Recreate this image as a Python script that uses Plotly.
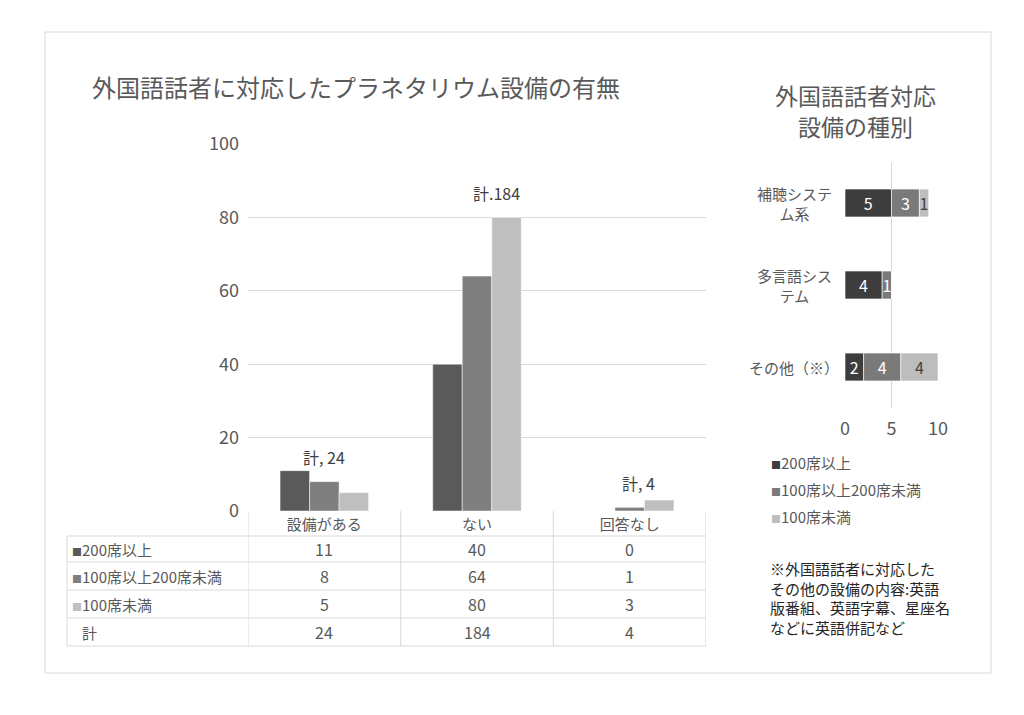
import plotly.graph_objects as go

# ---------------- data ----------------
categories = ["設備がある", "ない", "回答なし"]
series_names = ["200席以上", "100席以上200席未満", "100席未満"]
seats_200_plus = [11, 40, 0]
seats_100_200 = [8, 64, 1]
seats_under_100 = [5, 80, 3]
total_row_label = "計"
total_label_formats = ["計, {}", "計.{}", "計, {}"]
main_ticks = [0, 20, 40, 60, 80, 100]

type_categories = ["補聴システム系", "多言語システム", "その他（※）"]
type_tick_labels = ["補聴システ<br>ム系", "多言語シス<br>テム", "その他（※）"]
type_200_plus = [5, 4, 2]
type_100_200 = [3, 1, 4]
type_under_100 = [1, 0, 4]
side_ticks = [0, 5, 10]

main_title = "外国語話者に対応したプラネタリウム設備の有無"
side_title_lines = ["外国語話者対応", "設備の種別"]
note_text = ("※外国語話者に対応した<br>その他の設備の内容:英語<br>"
             "版番組、英語字幕、星座名<br>などに英語併記など")

# ---------------- styling ----------------
W, H = 1024, 715
FONT = "Noto Sans CJK JP"
TXT = "#595959"
GRID = "#d9d9d9"
main_colors = ["#5a5a5a", "#7f7f7f", "#bfbfbf"]
side_colors = ["#3d3d3d", "#7a7a7a", "#bdbdbd"]
side_text_colors = ["#ffffff", "#ffffff", "#404040"]


def fx(p):
    return p / W


def fy(p):
    return 1 - p / H


fig = go.Figure()

main_series = [seats_200_plus, seats_100_200, seats_under_100]
bw = 0.58 / 3
for i, (name, vals) in enumerate(zip(series_names, main_series)):
    fig.add_trace(go.Bar(
        x=categories, y=vals, name=name, width=bw, offset=-1.5 * bw + i * bw,
        marker=dict(color=main_colors[i], line=dict(color="white", width=0.5)),
        xaxis="x", yaxis="y", showlegend=False, hoverinfo="skip"))

side_series = [type_200_plus, type_100_200, type_under_100]
base = [0] * len(type_categories)
for i, (name, vals) in enumerate(zip(series_names, side_series)):
    fig.add_trace(go.Bar(
        y=type_categories, x=vals, base=list(base), orientation="h", width=0.34,
        name=name,
        marker=dict(color=side_colors[i], line=dict(color="white", width=0.6)),
        text=[str(v) if v else "" for v in vals], textposition="inside",
        insidetextanchor="middle", textangle=0,
        textfont=dict(color=side_text_colors[i], size=16, family=FONT),
        xaxis="x2", yaxis="y2", showlegend=False, hoverinfo="skip"))
    base = [b + v for b, v in zip(base, vals)]

annotations = []
shapes = []

# titles
annotations.append(dict(text=main_title, xref="paper", yref="paper", x=fx(90), y=fy(86),
                         xanchor="left", yanchor="middle", showarrow=False,
                         font=dict(size=24, color=TXT, family=FONT)))
for line, yy in zip(side_title_lines, [95, 126]):
    annotations.append(dict(text=line, xref="paper", yref="paper", x=fx(855), y=fy(yy),
                             xanchor="center", yanchor="middle", showarrow=False,
                             font=dict(size=23, color=TXT, family=FONT)))

# totals above groups
totals = [sum(v) for v in zip(*main_series)]
total_label_y = [14.7, 86.6, 7.6]
total_label_xshift = [0, 19, 9]
for c, t, fmt, yy, xs in zip(categories, totals, total_label_formats, total_label_y, total_label_xshift):
    annotations.append(dict(text=fmt.format(t), xref="x", yref="y", x=c, y=yy, xshift=xs,
                             xanchor="center", yanchor="middle", showarrow=False,
                             font=dict(size=16, color="#404040", family=FONT)))

# data table
row_centers = [549, 576, 604, 632]
row_lines = [536, 562, 590, 618, 646]
table_left = 67
for yy in row_lines:
    shapes.append(dict(type="line", xref="paper", yref="paper", x0=fx(table_left), x1=fx(706),
                       y0=fy(yy), y1=fy(yy), line=dict(color=GRID, width=1)))
shapes.append(dict(type="line", xref="paper", yref="paper", x0=fx(table_left), x1=fx(table_left),
                   y0=fy(536), y1=fy(646), line=dict(color=GRID, width=1)))
for b in [-0.5, 0.5, 1.5, 2.5]:
    shapes.append(dict(type="line", xref="x", yref="paper", x0=b, x1=b,
                       y0=fy(511), y1=fy(646), line=dict(color=GRID, width=1)))

for r, (name, vals) in enumerate(zip(series_names, main_series)):
    annotations.append(dict(
        text=f'<span style="color:{main_colors[r]};font-size:10px">■</span>{name}',
        xref="paper", yref="paper", x=fx(70), y=fy(row_centers[r]), xanchor="left",
        yanchor="middle", showarrow=False, font=dict(size=15, color=TXT, family=FONT)))
    for c, v in zip(categories, vals):
        annotations.append(dict(text=str(v), xref="x", yref="paper", x=c, y=fy(row_centers[r]),
                                 xanchor="center", yanchor="middle", showarrow=False,
                                 font=dict(size=16, color=TXT, family=FONT)))
annotations.append(dict(text=total_row_label, xref="paper", yref="paper", x=fx(80),
                         y=fy(row_centers[3]), xanchor="left", yanchor="middle", showarrow=False,
                         font=dict(size=15, color=TXT, family=FONT)))
for c, t in zip(categories, totals):
    annotations.append(dict(text=str(t), xref="x", yref="paper", x=c, y=fy(row_centers[3]),
                             xanchor="center", yanchor="middle", showarrow=False,
                             font=dict(size=16, color=TXT, family=FONT)))

# side chart category labels (centred, multi-line)
for cat, lab in zip(type_categories, type_tick_labels):
    annotations.append(dict(text=lab, xref="paper", yref="y2", x=fx(794), y=cat,
                             xanchor="center", yanchor="middle", align="center", showarrow=False,
                             font=dict(size=15, color=TXT, family=FONT)))

# side chart legend
legend_rows = [462, 489, 516]
for name, col, yy in zip(series_names, side_colors, legend_rows):
    annotations.append(dict(
        text=f'<span style="color:{col};font-size:10px">■</span>{name}',
        xref="paper", yref="paper", x=fx(769), y=fy(yy), xanchor="left", yanchor="middle",
        showarrow=False, font=dict(size=15, color=TXT, family=FONT)))

# note
annotations.append(dict(text=note_text, xref="paper", yref="paper", x=fx(768), y=fy(556),
                         xanchor="left", yanchor="top", align="left", showarrow=False,
                         font=dict(size=15, color="#262626", family=FONT)))

# outer frame
shapes.append(dict(type="rect", xref="paper", yref="paper", x0=fx(45), x1=fx(991),
                   y0=fy(673), y1=fy(32), line=dict(color=GRID, width=1)))

fig.update_layout(
    width=W, height=H, autosize=False,
    margin=dict(l=0, r=0, t=0, b=0, pad=0, autoexpand=False),
    paper_bgcolor="white", plot_bgcolor="white",
    font=dict(family=FONT, color=TXT),
    barmode="overlay", showlegend=False,
    xaxis=dict(domain=[fx(248), fx(706)], anchor="y", range=[-0.5, 2.5], showgrid=False,
               showline=False, zeroline=False, ticks="", fixedrange=True, automargin=False,
               ticklabelstandoff=3,
               tickfont=dict(size=15, color=TXT, family=FONT)),
    yaxis=dict(domain=[fy(511), fy(144)], anchor="x", range=[0, 100], tickvals=main_ticks,
               showgrid=True, gridcolor=GRID, zeroline=False, showline=False, ticks="",
               ticklabelstandoff=8, fixedrange=True, automargin=False,
               tickfont=dict(size=18, color=TXT, family=FONT)),
    xaxis2=dict(domain=[fx(845), fx(938)], anchor="y2", range=[0, 10], tickvals=side_ticks,
                showgrid=True, gridcolor=GRID, zeroline=False, showline=False, ticks="",
                ticklabelstandoff=8, fixedrange=True, automargin=False,
                tickfont=dict(size=18, color=TXT, family=FONT)),
    yaxis2=dict(domain=[fy(408), fy(162)], anchor="x2", autorange="reversed",
                showticklabels=False, showgrid=False, zeroline=False, showline=False,
                fixedrange=True, automargin=False),
    uniformtext=dict(minsize=15, mode="show"),
    annotations=annotations,
    shapes=shapes,
)

fig.write_html("out.html", config={"displayModeBar": False},
               post_script="document.body.style.margin='0';")
